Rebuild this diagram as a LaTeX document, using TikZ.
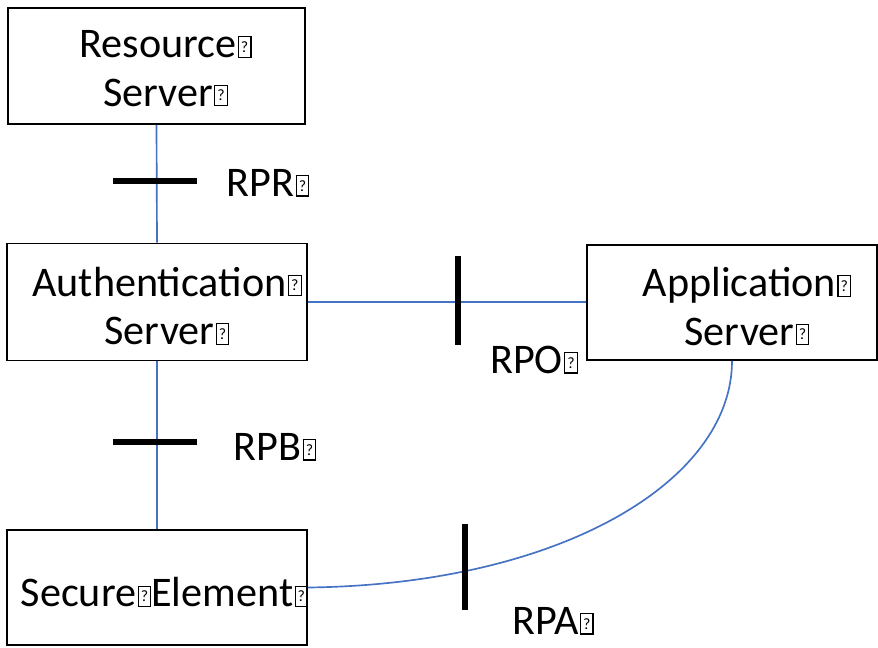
\documentclass[tikz,border=0pt]{standalone}
\usepackage{fontspec}
\setmainfont{Carlito}
\usepackage{xcolor}
\usetikzlibrary{positioning}
\definecolor{link}{HTML}{4472C4}
\newcommand{\miss}{\kern0.8pt\vbox{\hrule height0.6pt\hbox{\vrule width0.6pt\hbox to 6.6pt{\hss\vbox to 11pt{\vss\hbox{\fontsize{9}{9}\selectfont ?}\vss}\hss}\vrule width0.6pt}\hrule height0.6pt}}
\tikzset{
  box/.style={draw=black, line width=1.1pt, inner sep=0pt},
  txt/.style={align=center, inner sep=0pt, font=\fontsize{24}{27.5}\selectfont},
  wire/.style={draw=link, line width=0.95pt},
  bar/.style={draw=black, line width=3.4pt},
  lab/.style={inner sep=0pt, font=\fontsize{24}{28}\selectfont},
}
\begin{document}
\begin{tikzpicture}[x=0.02cm,y=-0.02cm]
  \useasboundingbox (0,0) rectangle (878,648);

  \node[box,minimum width=5.94cm,minimum height=2.32cm,
    label={[txt,xshift=0.18cm,yshift=-0.05cm]center:Resource\miss\\Server\miss}] (res) at (156.5,66) {};
  \node[box,minimum width=6cm,minimum height=2.34cm,
    label={[txt,xshift=0.2cm,yshift=-0.08cm]center:Authentication\miss\\Server\miss}] (auth) at (157,302) {};
  \node[box,minimum width=5.8cm,minimum height=2.3cm,
    label={[txt,xshift=0.3cm,yshift=-0.08cm]center:Application\miss\\Server\miss}] (app) at (732,302.5) {};
  \node[box,minimum width=6cm,minimum height=2.3cm,
    label={[txt,xshift=0.15cm,yshift=-0.1cm]center:Secure\miss Element\miss}] (sec) at (157,587.5) {};

  % links
  \draw[wire] (res.south) -- (auth.north);
  \draw[wire] (auth.south) -- (sec.north);
  \draw[wire] (auth.east) -- (auth.east -| app.west);
  \draw[wire] (app.south) .. controls +(0,120) and +(253,-3) .. (sec.east);

  % reference points
  \draw[bar] (113,181) -- (197,181);
  \draw[bar] (458,256) -- (458,345);
  \draw[bar] (113,442) -- (197,442);
  \draw[bar] (465,524) -- (465,610);

  \node[lab] (rpr) at (268,183) {RPR\miss};
  \node[lab] (rpo) at (534,360) {RPO\miss};
  \node[lab] (rpb) at (275,447) {RPB\miss};
  \node[lab] (rpa) at (553,621) {RPA\miss};
\end{tikzpicture}
\end{document}
